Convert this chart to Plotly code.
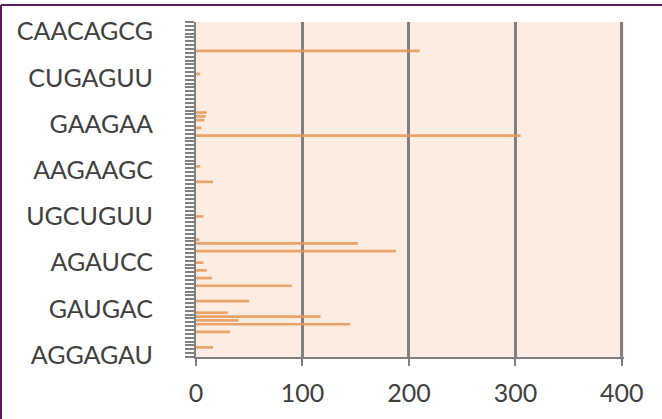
import plotly.graph_objects as go

# ---- data ----
n_categories = 87
label_positions = [0, 12, 24, 36, 48, 60, 72, 84]
label_texts = ["AGGAGAU", "GAUGAC", "AGAUCC", "UGCUGUU",
               "AAGAAGC", "GAAGAA", "CUGAGUU", "CAACAGCG"]
bar_index = [2, 6, 8, 9, 10, 11, 14, 18, 20, 22, 24, 27, 29, 30, 36,
             45, 49, 57, 59, 61, 62, 63, 73, 79]
bar_value = [16, 32, 145, 40, 117, 30, 50, 90, 15, 10, 7, 188, 152, 3, 7,
             16, 4, 305, 5, 8, 9, 10, 4, 210]
x_ticks = [0, 100, 200, 300, 400]

# ---- layout constants ----
W, H = 662, 419
ML, MR, MT, MB = 196, 38, 22, 62
PW, PH = W - ML - MR, H - MT - MB
axis_gray = "#808080"
text_gray = "#404040"
purple = "#5e1a5e"

fig = go.Figure(go.Bar(
    x=bar_value, y=bar_index, orientation="h",
    width=0.7,
    marker=dict(color="rgba(230,152,84,0.85)", line=dict(width=0)),
))

fig.update_layout(
    width=W, height=H,
    margin=dict(l=ML, r=MR, t=MT, b=MB, pad=0),
    paper_bgcolor="white",
    plot_bgcolor="#fdece2",
    showlegend=False,
    font=dict(family="Lato", size=25, color=text_gray),
    xaxis=dict(
        range=[0, 402], tickmode="array", tickvals=x_ticks,
        showgrid=True, gridcolor=axis_gray, gridwidth=3,
        zeroline=False, showline=True, linecolor=axis_gray, linewidth=2,
        ticks="outside", ticklen=7, tickwidth=2, tickcolor=axis_gray,
        ticklabelstandoff=6,
        tickfont=dict(family="Lato", size=25, color=text_gray),
    ),
    yaxis=dict(
        range=[-0.5, n_categories - 0.5], tickmode="array",
        tickvals=label_positions, ticktext=label_texts,
        showgrid=False, zeroline=False,
        showline=True, linecolor=axis_gray, linewidth=2,
        ticks="", ticklabelstandoff=36,
        tickfont=dict(family="Lato", size=25, color=text_gray),
        minor=dict(ticks="outside", tickmode="linear", tick0=-0.5, dtick=1,
                   ticklen=9, tickwidth=2, tickcolor=axis_gray, showgrid=False),
    ),
    shapes=[
        dict(type="line", xref="paper", yref="paper",
             x0=(1 - ML) / PW, x1=(1 - ML) / PW,
             y0=-(H - MT) / PH, y1=1 + (MT - 5) / PH,
             line=dict(color=purple, width=2)),
        dict(type="line", xref="paper", yref="paper",
             x0=(1 - ML) / PW, x1=(W + 5 - ML) / PW,
             y0=1 + (MT - 5) / PH, y1=1 + (MT - 5) / PH,
             line=dict(color=purple, width=2)),
    ],
)

fig.write_html("out.html")
